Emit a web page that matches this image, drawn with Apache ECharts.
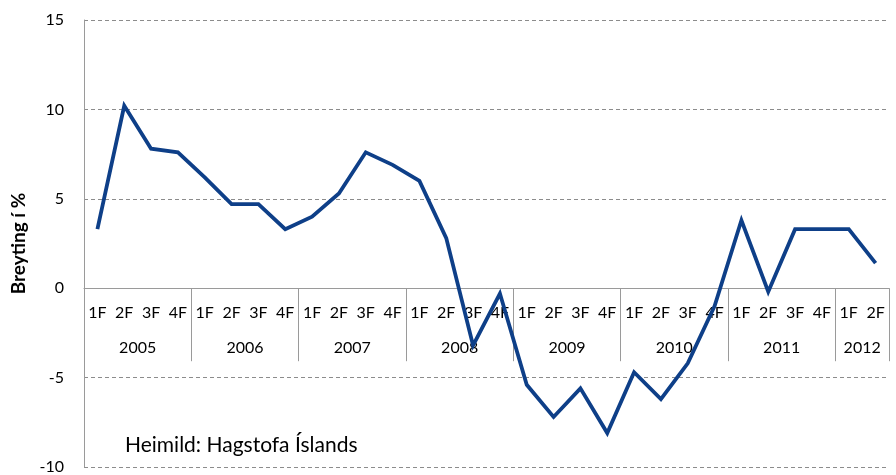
<!DOCTYPE html>
<html>
<head>
<meta charset="utf-8">
<script src="https://cdn.jsdelivr.net/npm/echarts@6/dist/echarts.min.js"></script>
<style>html,body{margin:0;padding:0;background:#fff}#c{width:896px;height:475px}</style>
</head>
<body>
<div id="c"></div>
<script>
const quarters = ['1F','2F','3F','4F','1F','2F','3F','4F','1F','2F','3F','4F','1F','2F','3F','4F','1F','2F','3F','4F','1F','2F','3F','4F','1F','2F','3F','4F','1F','2F'];
const years = ['2005','2006','2007','2008','2009','2010','2011','2012'];
const quartersPerYear = [4,4,4,4,4,4,4,2];
const values = [3.3,10.2,7.8,7.6,6.2,4.7,4.7,3.3,4.0,5.3,7.6,6.9,6.0,2.8,-3.2,-0.3,-5.4,-7.2,-5.6,-8.1,-4.7,-6.2,-4.2,-1.0,3.8,-0.2,3.3,3.3,3.3,1.4];
const yTicks = [-10,-5,0,5,10,15];
const sourceText = 'Heimild: Hagstofa Íslands';
const yTitle = 'Breyting í %';

const bounds = [0];
quartersPerYear.forEach(n => bounds.push(bounds[bounds.length-1] + n));
const centers = years.map((y,i) => (bounds[i] + bounds[i+1]) / 2);
const centerToYear = {};
centers.forEach((c,i) => centerToYear[c] = years[i]);

const W = 896, H = 475;
const G = { left: 84, right: 7, top: 20, bottom: 8 };
const yMin = yTicks[0], yMax = yTicks[yTicks.length-1];
// place the category axis where y = 0 lies inside the grid
const zeroOffset = -(H - G.top - G.bottom) * (0 - yMin) / (yMax - yMin);

const FONT = 'Lato';
const gray = '#9a9a9a';
const chart = echarts.init(document.getElementById('c'));
chart.setOption({
  animation: false,
  textStyle: { fontFamily: FONT },
  title: {
    text: sourceText, left: 120, top: 430,
    textStyle: { fontFamily: FONT, fontSize: 21, fontWeight: 'normal', color: '#000' }
  },
  grid: Object.assign({ outerBoundsMode: 'none' }, G),
  xAxis: [
    {
      type: 'category', data: quarters, position: 'bottom', offset: zeroOffset,
      axisLine: { onZero: false, lineStyle: { color: gray, width: 1 } },
      axisTick: { show: false },
      axisLabel: { color: '#000', fontSize: 16, margin: 17, interval: 0, fontFamily: FONT }
    },
    {
      type: 'value', min: 0, max: bounds[bounds.length-1], position: 'bottom', offset: zeroOffset,
      axisLine: { show: false, onZero: false },
      splitLine: { show: false },
      axisTick: { show: true, customValues: bounds, length: 73, lineStyle: { color: gray, width: 1 } },
      axisLabel: {
        customValues: centers, color: '#000', fontSize: 16, margin: 52, fontFamily: FONT,
        formatter: v => centerToYear[v] || ''
      }
    }
  ],
  yAxis: [
    {
      type: 'value', min: yMin, max: yMax, interval: 5,
      name: yTitle, nameLocation: 'middle', nameGap: 56, nameRotate: 90,
      nameTextStyle: { fontFamily: FONT, fontSize: 19, fontWeight: 'bold', color: '#000' },
      axisLine: { show: true, onZero: false, lineStyle: { color: gray, width: 1 } },
      axisTick: { show: false },
      axisLabel: { color: '#000', fontSize: 16, margin: 20, fontFamily: FONT },
      splitLine: { show: true, lineStyle: { color: '#8c8c8c', type: [4,3], width: 1 } }
    }
  ],
  series: [{
    type: 'line', data: values, xAxisIndex: 0, yAxisIndex: 0,
    showSymbol: false, symbol: 'none',
    lineStyle: { color: '#0e3f88', width: 3.8, join: 'miter' },
    z: 5
  }]
});
</script>
</body>
</html>
